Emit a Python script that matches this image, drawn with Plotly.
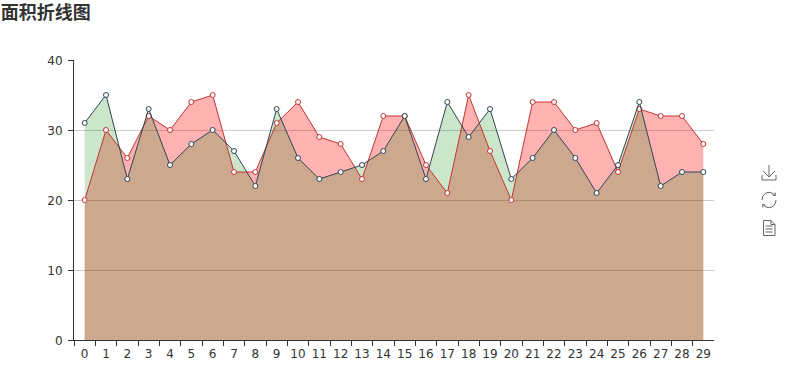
import plotly.graph_objects as go

W, H = 803, 387
categories = list(range(30))
series_red = [20, 30, 26, 32, 30, 34, 35, 24, 24, 31, 34, 29, 28, 23, 32, 32, 25, 21, 35, 27, 20, 34, 34, 30, 31, 24, 33, 32, 32, 28]
series_dark = [31, 35, 23, 33, 25, 28, 30, 27, 22, 33, 26, 23, 24, 25, 27, 32, 23, 34, 29, 33, 23, 26, 30, 26, 21, 25, 34, 22, 24, 24]
y_ticks = [0, 10, 20, 30, 40]
title_text = "面积折线图"

FONT = "DejaVu Sans"
TEXT = "#333333"
fig = go.Figure()
for vals, fill in [(series_red, "rgba(255,0,0,0.3)"), (series_dark, "rgba(0,128,0,0.2)")]:
    fig.add_trace(go.Scatter(x=categories, y=vals, mode="none", fill="tozeroy", fillcolor=fill,
                             showlegend=False, hoverinfo="skip"))
for vals, line in [(series_red, "#c23531"), (series_dark, "#2f4554")]:
    fig.add_trace(go.Scatter(
        x=categories, y=vals, mode="lines+markers",
        line=dict(color=line, width=1),
        marker=dict(size=5, color="white", line=dict(color=line, width=1)),
        showlegend=False, cliponaxis=False,
    ))


def px(x, y):
    """Window pixels to paper coordinates."""
    return (x - 74) / 640, (340 - y) / 280


def path(points, close=False):
    out = []
    for i, (x, y) in enumerate(points):
        a, b = px(x, y)
        out.append(f"{'M' if i == 0 else 'L'}{a:.5f},{b:.5f}")
    return " ".join(out) + (" Z" if close else "")


icon_paths = [
    # download
    path([(769, 165), (769, 177)]),
    path([(763, 171), (769, 177), (775, 171)]),
    path([(762, 175), (762, 180), (776, 180), (776, 175)]),
    # refresh
    path([(762, 200), (762.6, 196.8), (764.3, 194.3), (766.5, 192.8), (769, 192.3), (772, 193), (774.5, 195)]),
    path([(776, 200), (775.4, 203.2), (773.7, 205.7), (771.5, 207.2), (769, 207.7), (766, 207), (763.5, 205)]),
    path([(772.5, 195), (775.5, 195.5), (775, 192.5)]),
    path([(765.5, 205), (762.5, 204.5), (763, 207.5)]),
    # document
    path([(763.5, 220.5), (771, 220.5), (775, 224.5), (775, 235.5), (763.5, 235.5)], close=True),
    path([(771, 220.5), (771, 224.5), (775, 224.5)]),
    path([(765.5, 226), (772.5, 226)]),
    path([(765.5, 229), (772.5, 229)]),
    path([(765.5, 232), (772.5, 232)]),
]
shapes = [dict(type="path", xref="paper", yref="paper", path=p,
               line=dict(color="#666666", width=1), layer="above") for p in icon_paths]

fig.update_layout(
    width=W, height=H,
    margin=dict(l=74, r=89, t=60, b=47),
    paper_bgcolor="white", plot_bgcolor="white",
    font=dict(family=FONT, size=12, color=TEXT),
    title=dict(text=f"<b>{title_text}</b>", x=0.001, xref="container", xanchor="left", y=1 - 13 / H,
               yanchor="middle", yref="container", pad=dict(l=0, r=0, t=0, b=0),
               font=dict(family="Noto Sans CJK SC", size=18, color=TEXT)),
    shapes=shapes,
    xaxis=dict(
        range=[-0.5, 29.5], tickmode="array", tickvals=categories, ticktext=[str(c) for c in categories],
        ticks="", showgrid=False, zeroline=False, showline=True, linecolor=TEXT, linewidth=1,
        tickfont=dict(size=12, color=TEXT), ticklabelstandoff=3,
        minor=dict(tickmode="array", tickvals=[c - 0.5 for c in categories], ticks="outside",
                   ticklen=5, tickcolor=TEXT, tickwidth=1, showgrid=False),
    ),
    yaxis=dict(
        range=[0, 40], tickmode="array", tickvals=y_ticks, ticks="outside", ticklen=5,
        tickcolor=TEXT, showgrid=True, gridcolor="#cccccc", gridwidth=1, zeroline=False,
        showline=True, linecolor=TEXT, linewidth=1, tickfont=dict(size=12, color=TEXT),
        ticklabelstandoff=3, ticklabelshift=1,
    ),
)
fig.write_html("out.html", config=dict(displayModeBar=False), post_script="document.body.style.margin='0';")
